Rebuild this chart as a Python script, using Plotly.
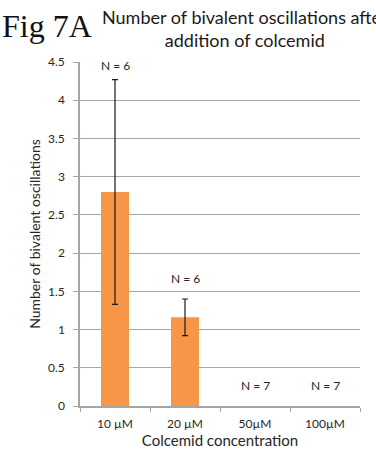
import plotly.graph_objects as go

# Colcemid dose response: mean bivalent oscillations with error bars and group sizes
concentrations = ["10 µM", "20 µM", "50µM", "100µM"]
mean_oscillations = [2.8, 1.16, 0, 0]
error_values = [1.47, 0.24, 0, 0]
group_sizes = ["N = 6", "N = 6", "N = 7", "N = 7"]
y_ticks = [0, 0.5, 1, 1.5, 2, 2.5, 3, 3.5, 4, 4.5]

BAR_COLOR = "#F79646"
TEXT_COLOR = "#262626"
GRID_COLOR = "#a6a6a6"
SANS = "Lato, 'Open Sans', sans-serif"

# Only bars with a non-zero spread get an error bar
has_err = [e > 0 for e in error_values]

fig = go.Figure()
fig.add_trace(go.Bar(
    x=concentrations,
    y=mean_oscillations,
    marker=dict(color=BAR_COLOR, line=dict(width=0)),
    width=0.4,
))
fig.add_trace(go.Scatter(
    x=[c for c, h in zip(concentrations, has_err) if h],
    y=[m for m, h in zip(mean_oscillations, has_err) if h],
    mode="markers",
    marker=dict(size=0.1, color="rgba(0,0,0,0)"),
    error_y=dict(type="data",
                 array=[e for e, h in zip(error_values, has_err) if h],
                 visible=True, color="#1a1a1a", thickness=1.2, width=3),
    hoverinfo="skip",
))

# Group size labels above each bar (or its error bar)
for cat, m, e, n in zip(concentrations, mean_oscillations, error_values, group_sizes):
    top = m + e
    fig.add_annotation(x=cat, y=top, text=n, showarrow=False,
                       yanchor="bottom", yshift=5 if top > 4 else 11,
                       font=dict(family=SANS, size=12, color=TEXT_COLOR))

# Figure panel tag and chart title
fig.add_annotation(xref="paper", yref="paper", x=-0.285, y=1.105,
                   xanchor="left", yanchor="middle", showarrow=False,
                   text="Fig 7A",
                   font=dict(family="'Liberation Serif', 'Times New Roman', serif",
                             size=32, color="#111"))
fig.add_annotation(xref="paper", yref="paper", x=0.59, y=1.096,
                   xanchor="center", yanchor="middle", showarrow=False,
                   text="Number of bivalent oscillations after<br>addition of colcemid",
                   align="center",
                   font=dict(family=SANS, size=18, color="#1a1a1a"))

fig.update_layout(
    width=376, height=450,
    margin=dict(l=80, r=16, t=62, b=44),
    paper_bgcolor="white", plot_bgcolor="white",
    showlegend=False,
    xaxis=dict(
        type="category",
        automargin=False,
        tickson="boundaries",
        ticks="outside", ticklen=4, tickcolor=GRID_COLOR, tickwidth=1,
        showline=True, linecolor=GRID_COLOR, linewidth=1.5,
        showgrid=False,
        ticklabelstandoff=6,
        tickfont=dict(family=SANS, size=12, color=TEXT_COLOR),
        title=dict(text="Colcemid concentration", standoff=4,
                   font=dict(family=SANS, size=15, color=TEXT_COLOR)),
    ),
    yaxis=dict(
        range=[0, 4.5],
        automargin=False,
        tickvals=y_ticks,
        ticktext=[f"{v:g}" for v in y_ticks],
        ticks="outside", ticklen=5, tickcolor=GRID_COLOR, tickwidth=1,
        showline=True, linecolor=GRID_COLOR, linewidth=1.5,
        showgrid=True, gridcolor=GRID_COLOR, gridwidth=1.2,
        zeroline=False,
        ticklabelstandoff=6,
        tickfont=dict(family=SANS, size=12, color=TEXT_COLOR),
        title=dict(text="Number of bivalent oscillations", standoff=4,
                   font=dict(family=SANS, size=14, color=TEXT_COLOR)),
    ),
)

fig.write_html("out.html")
